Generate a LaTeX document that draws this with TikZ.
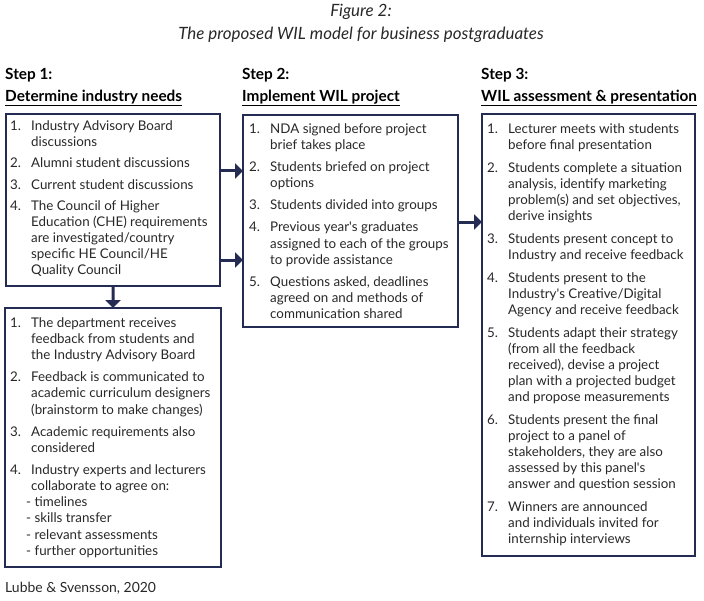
\documentclass[tikz,border=0pt]{standalone}
\usepackage{fontspec}
\setmainfont{Lato}
\usetikzlibrary{arrows.meta}
\definecolor{navy}{RGB}{36,44,84}
\definecolor{ink}{RGB}{40,40,40}
\newcommand\NI[1]{\makebox[21bp][l]{#1}}
\newcommand\CI{\hspace*{21bp}}
\newcommand\DI{\hspace*{16bp}}
\newcommand\AP{\textquotesingle}
\begin{document}
\begin{tikzpicture}[x=1bp,y=-1bp,
  box/.style={draw=navy,line width=2.2bp,anchor=north west,inner sep=0pt,outer sep=0pt},
  txt/.style={anchor=west,align=left,inner sep=0pt,text=ink,font=\fontsize{13.4}{16.2}\selectfont},
  hdr/.style={anchor=west,inner sep=0pt,font=\fontsize{15.4}{18}\selectfont\bfseries},
  ttl/.style={inner sep=0pt,text=ink,font=\fontsize{17}{20}\selectfont\itshape},
  arr/.style={draw=navy,line width=3bp,-{Triangle[length=8bp,width=15bp]}}]
\useasboundingbox (0,0) rectangle (704,601);
% titles
\node[ttl] (t1) at (361,12) {Figure 2:};
\node[ttl] (t2) at (361,35) {The proposed WIL model for business postgraduates};
% headers
\node[hdr] (h1a) at (5,75) {Step 1:};
\node[hdr] (h1b) at (5,98) {\underline{Determine industry needs}};
\node[hdr] (h2a) at (242,75) {Step 2:};
\node[hdr] (h2b) at (242,98) {\underline{Implement WIL project}};
\node[hdr] (h3a) at (481,75) {Step 3:};
\node[hdr] (h3b) at (481,98) {\underline{WIL assessment \& presentation}};
% boxes
\node[box,minimum width=214bp,minimum height=172bp] (b1) at (6,114) {};
\node[box,minimum width=215bp,minimum height=212bp] (b2) at (243,115) {};
\node[box,minimum width=213bp,minimum height=442bp] (b3) at (482,114) {};
\node[box,minimum width=216bp,minimum height=259bp] (b4) at (5,308) {};
% texts
\node[txt] (b1t) at ([xshift=4bp,yshift=1bp]b1.west) {%
\NI{1.}Industry Advisory Board\\
\CI discussions\\[5bp]
\NI{2.}Alumni student discussions\\[5bp]
\NI{3.}Current student discussions\\[5bp]
\NI{4.}The Council of Higher\\
\CI Education (CHE) requirements\\
\CI are investigated/country\\
\CI specific HE Council/HE\\
\CI Quality Council};
\node[txt] (b2t) at ([xshift=6bp]b2.west) {%
\NI{1.}NDA signed before project\\
\CI brief takes place\\[6bp]
\NI{2.}Students briefed on project\\
\CI options\\[6bp]
\NI{3.}Students divided into groups\\[6bp]
\NI{4.}Previous year\AP s graduates\\
\CI assigned to each of the groups\\
\CI to provide assistance\\[6bp]
\NI{5.}Questions asked, deadlines\\
\CI agreed on and methods of\\
\CI communication shared};
\node[txt] (b3t) at ([xshift=5bp]b3.west) {%
\NI{1.}Lecturer meets with students\\
\CI before final presentation\\[6.5bp]
\NI{2.}Students complete a situation\\
\CI analysis, identify marketing\\
\CI problem(s) and set objectives,\\
\CI derive insights\\[6.5bp]
\NI{3.}Students present concept to\\
\CI Industry and receive feedback\\[6.5bp]
\NI{4.}Students present to the\\
\CI Industry\AP s Creative/Digital\\
\CI Agency and receive feedback\\[6.5bp]
\NI{5.}Students adapt their strategy\\
\CI (from all the feedback\\
\CI received), devise a project\\
\CI plan with a projected budget\\
\CI and propose measurements\\[6.5bp]
\NI{6.}Students present the final\\
\CI project to a panel of\\
\CI stakeholders, they are also\\
\CI assessed by this panel\AP s\\
\CI answer and question session\\[6.5bp]
\NI{7.}Winners are announced\\
\CI and individuals invited for\\
\CI internship interviews};
\node[txt] (b4t) at ([xshift=5bp]b4.west) {%
\NI{1.}The department receives\\
\CI feedback from students and\\
\CI the Industry Advisory Board\\[6bp]
\NI{2.}Feedback is communicated to\\
\CI academic curriculum designers\\
\CI (brainstorm to make changes)\\[6bp]
\NI{3.}Academic requirements also\\
\CI considered\\[6bp]
\NI{4.}Industry experts and lecturers\\
\CI collaborate to agree on:\\
\DI - timelines\\
\DI - skills transfer\\
\DI - relevant assessments\\
\DI - further opportunities};
% caption
\node[anchor=west,inner sep=0pt,text=ink,font=\fontsize{14}{17}\selectfont] (cap) at (5,588) {Lubbe \& Svensson, 2020};
% arrows
\coordinate (y1) at (0,171);
\coordinate (y2) at (0,260);
\coordinate (y3) at (0,222);
\draw[arr] (b1.east |- y1) -- (b2.west |- y1);
\draw[arr] (b1.east |- y2) -- (b2.west |- y2);
\draw[arr] (b2.east |- y3) -- (b3.west |- y3);
\draw[arr] (b1.south) -- (b4.north);
\end{tikzpicture}
\end{document}
